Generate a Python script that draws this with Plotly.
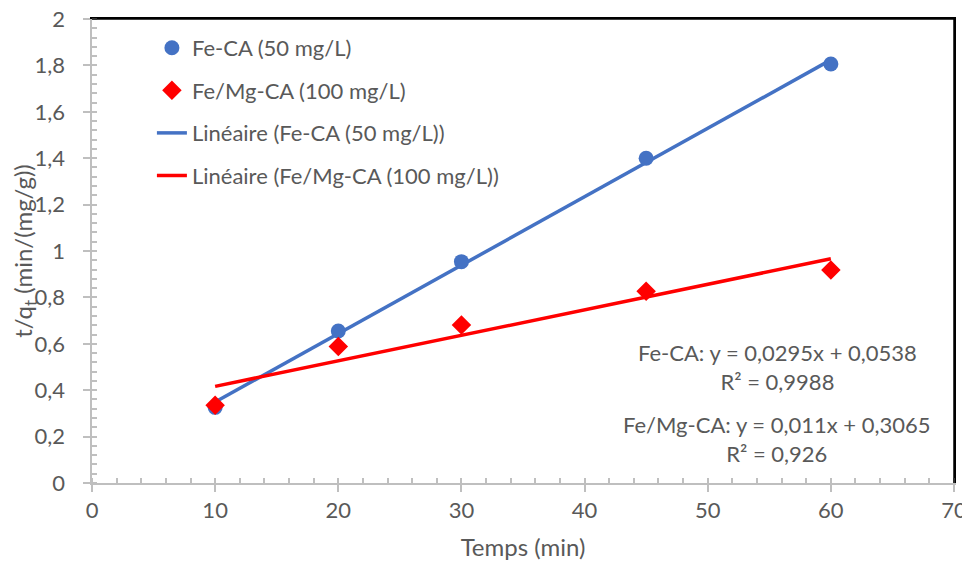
import plotly.graph_objects as go

# Data
temps = [10, 20, 30, 45, 60]
fe_ca = [0.326, 0.655, 0.954, 1.400, 1.806]
fe_mg_ca = [0.335, 0.588, 0.681, 0.827, 0.918]

# Linear trendline coefficients (as printed on the chart)
fit_fe_ca = [0.0295, 0.0538]
fit_fe_mg = [0.011, 0.3065]
fit_x = [10, 60]

# Axis tick values / labels
y_tickvals = [0, 0.2, 0.4, 0.6, 0.8, 1.0, 1.2, 1.4, 1.6, 1.8, 2.0]
y_ticktext = ["0", "0,2", "0,4", "0,6", "0,8", "1", "1,2", "1,4", "1,6", "1,8", "2"]

names = ["Fe-CA (50 mg/L)", "Fe/Mg-CA (100 mg/L)",
         "Linéaire (Fe-CA (50 mg/L))", "Linéaire (Fe/Mg-CA (100 mg/L))"]
eq_texts = ["Fe-CA: y = 0,0295x + 0,0538<br>R² = 0,9988",
            "Fe/Mg-CA: y = 0,011x + 0,3065<br>R² = 0,926"]

BLUE = "#4472C4"
RED = "#FF0000"
GREY_TXT = "#595959"
AXIS = "#BFBFBF"
FONT = "Lato"
FS = 22
FT = 24
X_RANGE = [0, 70]
Y_RANGE = [0, 2]

fig = go.Figure()

fig.add_trace(go.Scatter(
    x=fit_x, y=[fit_fe_ca[0] * v + fit_fe_ca[1] for v in fit_x],
    mode="lines", line=dict(color=BLUE, width=3.5),
    name=names[2], legendgroup="c", legendrank=3))
fig.add_trace(go.Scatter(
    x=fit_x, y=[fit_fe_mg[0] * v + fit_fe_mg[1] for v in fit_x],
    mode="lines", line=dict(color=RED, width=3.5),
    name=names[3], legendgroup="d", legendrank=4))
fig.add_trace(go.Scatter(
    x=temps, y=fe_ca, mode="markers",
    marker=dict(color=BLUE, size=15, symbol="circle"),
    name=names[0], legendgroup="a", legendrank=1))
fig.add_trace(go.Scatter(
    x=temps, y=fe_mg_ca, mode="markers",
    marker=dict(color=RED, size=15, symbol="diamond"),
    name=names[1], legendgroup="b", legendrank=2))
# invisible trace on the overlay axes (top/right black frame)
fig.add_trace(go.Scatter(
    x=[], y=[], xaxis="x2", yaxis="y2", showlegend=False, hoverinfo="skip"))

fig.add_annotation(x=0.795, y=0.25, xref="paper", yref="paper",
                   text=eq_texts[0], showarrow=False, align="center",
                   xanchor="center", yanchor="middle",
                   font=dict(family=FONT, size=FS, color=GREY_TXT))
fig.add_annotation(x=0.795, y=0.094, xref="paper", yref="paper",
                   text=eq_texts[1], showarrow=False, align="center",
                   xanchor="center", yanchor="middle",
                   font=dict(family=FONT, size=FS, color=GREY_TXT))

# black frame on top and right
fig.add_shape(type="line", xref="paper", yref="paper", x0=0, x1=1, y0=1, y1=1,
              layer="above", line=dict(color="black", width=1.5))
fig.add_shape(type="line", xref="paper", yref="paper", x0=1, x1=1, y0=0, y1=1,
              layer="above", line=dict(color="black", width=1.5))

fig.update_layout(
    width=970, height=567,
    margin=dict(l=84, r=24, t=11, b=92, autoexpand=False),
    paper_bgcolor="white", plot_bgcolor="white",
    font=dict(family=FONT, size=FS, color=GREY_TXT),
    showlegend=True,
    legend=dict(x=0.0695, y=0.983, xanchor="left", yanchor="top",
                bgcolor="rgba(0,0,0,0)", tracegroupgap=11,
                font=dict(family=FONT, size=FS, color=GREY_TXT)),
    xaxis=dict(range=X_RANGE, dtick=10, showgrid=False, zeroline=False,
               showline=True, linecolor=AXIS, linewidth=1.5, automargin=False,
               ticklabeloverflow="allow",
               ticks="outside", ticklen=7, tickcolor=AXIS, tickwidth=1.5,
               minor=dict(dtick=2, ticks="inside", ticklen=5, tickcolor=AXIS, tickwidth=1.5),
               tickfont=dict(family=FONT, size=FS, color=GREY_TXT),
               title=dict(text="Temps (min)", standoff=17,
                          font=dict(family=FONT, size=FT, color=GREY_TXT))),
    yaxis=dict(range=Y_RANGE, showgrid=False, zeroline=False,
               tickmode="array", tickvals=y_tickvals,
               ticktext=[t + "\u2002\u2009" for t in y_ticktext],
               ticklabeloverflow="allow",
               showline=True, linecolor=AXIS, linewidth=1.5, automargin=False,
               ticks="outside", ticklen=7, tickcolor=AXIS, tickwidth=1.5,
               minor=dict(dtick=0.04, ticks="inside", ticklen=5, tickcolor=AXIS, tickwidth=1.5),
               tickfont=dict(family=FONT, size=FS, color=GREY_TXT),
               title=dict(text="t/q<sub>t</sub> (min/(mg/g))", standoff=0,
                          font=dict(family=FONT, size=FT, color=GREY_TXT))),
    xaxis2=dict(range=X_RANGE, overlaying="x", side="top", anchor="y2",
                showline=True, linecolor="black", linewidth=1.5,
                showticklabels=False, ticks="", showgrid=False, zeroline=False,
                automargin=False),
    yaxis2=dict(range=Y_RANGE, overlaying="y", side="right", anchor="x2",
                showline=True, linecolor="black", linewidth=1.5,
                showticklabels=False, ticks="", showgrid=False, zeroline=False,
                automargin=False),
)

fig.write_html("out.html")
